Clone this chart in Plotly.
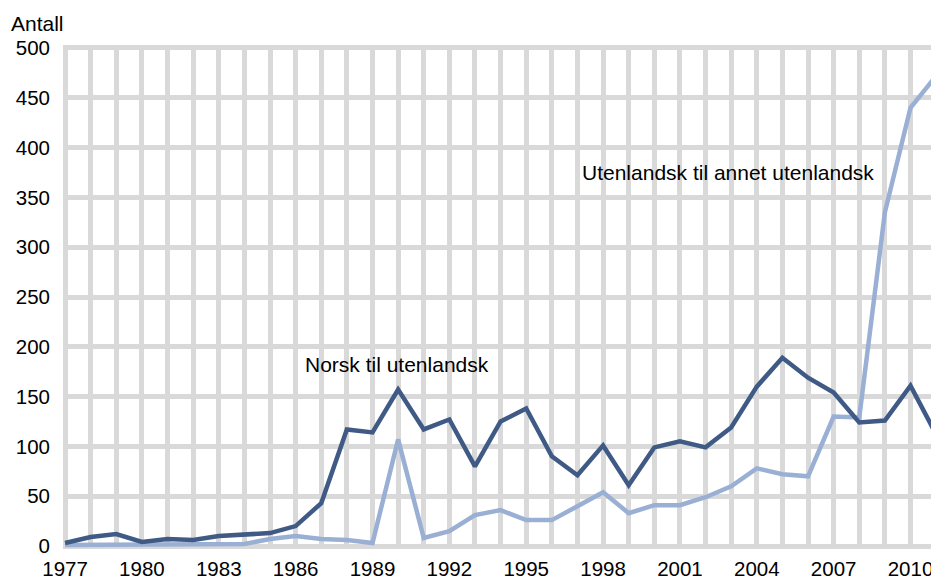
import plotly.graph_objects as go

years = list(range(1977, 2012))

# Norsk til utenlandsk
norsk = [3, 9, 12, 4, 7, 6, 10, 11, 13, 20, 43, 117, 114, 157, 117, 127,
         80, 125, 138, 90, 71, 101, 61, 99, 105, 99, 119, 160, 189, 169,
         154, 124, 126, 161, 112]

# Utenlandsk til annet utenlandsk
utenl = [1, 1, 1, 1, 1, 1, 2, 2, 7, 10, 7, 6, 3, 107, 8, 15,
         31, 36, 26, 26, 40, 54, 33, 41, 41, 49, 60, 78, 72, 70,
         130, 129, 335, 440, 472]

x_ticks = list(range(1977, 2011, 3))
y_ticks = list(range(0, 501, 50))

font = "Liberation Sans, Arial, sans-serif"

fig = go.Figure()
fig.add_trace(go.Scatter(x=years, y=utenl, mode="lines",
                         line=dict(color="#9aafd4", width=4.5)))
fig.add_trace(go.Scatter(x=years, y=norsk, mode="lines",
                         line=dict(color="#3f5a85", width=4.5)))

fig.add_annotation(x=1986.28, y=182, text="Norsk til utenlandsk", showarrow=False,
                   xanchor="left", yanchor="middle", font=dict(size=21, color="#000"))
fig.add_annotation(x=1997.08, y=375, text="Utenlandsk til annet utenlandsk", showarrow=False,
                   xanchor="left", yanchor="middle", font=dict(size=21, color="#000"))
fig.add_annotation(x=-0.062, xref="paper", y=1.042, yref="paper", text="Antall",
                   showarrow=False, xanchor="left", yanchor="middle",
                   font=dict(size=21, color="#000"))

fig.update_xaxes(range=[1976.92, 2010.8], tickvals=x_ticks, ticks="",
                 showgrid=True, gridcolor="#d9d9d9", gridwidth=5,
                 zeroline=False, showline=False, automargin=False,
                 ticklabeloverflow="allow", ticklabelstandoff=6,
                 tickfont=dict(size=20.5, color="#000"))
fig.update_xaxes(minor=dict(dtick=1, tick0=1977, showgrid=True,
                            gridcolor="#d9d9d9", gridwidth=5))
fig.update_yaxes(range=[-2, 503], tickvals=y_ticks, ticks="",
                 showgrid=True, gridcolor="#d9d9d9", gridwidth=5,
                 zeroline=False, showline=False, automargin=False,
                 ticklabelstandoff=12,
                 tickfont=dict(size=20.5, color="#000"))

fig.update_layout(
    width=931, height=579,
    margin=dict(l=63, r=0, t=45, b=31),
    plot_bgcolor="white", paper_bgcolor="white",
    showlegend=False,
    font=dict(family=font, color="#000"),
    hovermode=False,
)

# drop the browser's default body margin so the figure fills the window
fig.write_html("out.html", config={"displayModeBar": False},
               post_script="document.body.style.margin='0';"
                           "document.documentElement.style.overflow='hidden';")
